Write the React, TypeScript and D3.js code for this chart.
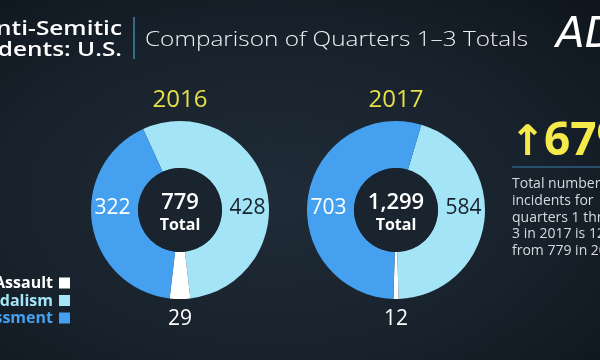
import * as d3 from 'd3';

// ---- data ----
const years = ['2016', '2017'];
const categories = ['Vandalism', 'Assault', 'Harassment'];
const values2016 = [428, 29, 322];
const values2017 = [584, 12, 703];
const totalLabels = ['779', '1,299'];
const legendLabels = ['Assault', 'Vandalism', 'Harassment'];
const headerLines = ['Anti-Semitic', 'Incidents: U.S.'];
const subtitle = 'Comparison of Quarters 1–3 Totals';
const increaseLabel = '67%';
const noteLines = [
  'Total number of',
  'incidents for',
  'quarters 1 through',
  '3 in 2017 is 1299, up',
  'from 779 in 2016.',
];

const W = 600;
const H = 360;
const FONT = '"Open Sans", Lato, sans-serif';

const colors = d3
  .scaleOrdinal<string, string>()
  .domain(categories)
  .range(['#a3e5f7', '#ffffff', '#45a1ef']);

const labelColors: Record<string, string> = {
  Vandalism: '#17222d',
  Assault: '#ffffff',
  Harassment: '#ffffff',
};

const Donut = ({ year, values, total, cx, cy }: {
  year: string; values: number[]; total: string; cx: number; cy: number;
}) => {
  const rOuter = 89;
  const rInner = 42;
  const sum = d3.sum(values);
  // start so the small "Assault" slice sits centred at the bottom
  const start = Math.PI - (values[1] / sum) * Math.PI - (values[0] / sum) * 2 * Math.PI;
  const pie = d3
    .pie<number>()
    .sort(null)
    .startAngle(start)
    .endAngle(start + 2 * Math.PI);
  const arcs = pie(values);
  const arc = d3.arc<d3.PieArcDatum<number>>().innerRadius(rInner).outerRadius(rOuter);
  const mid = (rOuter + rInner) / 2 + 2;

  return (
    <g transform={`translate(${cx},${cy})`}>
      <text y={-103} textAnchor="middle" fill="#e7df48" fontSize={24} fontFamily={FONT}>
        {year}
      </text>
      {arcs.map((a, i) => (
        <path key={categories[i]} d={arc(a) || ''} fill={colors(categories[i])} />
      ))}
      <circle r={rInner} fill="#19242f" />
      <text y={-1} textAnchor="middle" fill="#fff" fontSize={22} fontWeight={600} fontFamily={FONT}>
        {total}
      </text>
      <text y={20} textAnchor="middle" fill="#fff" fontSize={16} fontWeight={700} fontFamily={FONT}>
        Total
      </text>
      {/* Harassment label: left, Vandalism: right, Assault: below */}
      <text x={-mid} y={4} textAnchor="middle" fill={labelColors.Harassment} fontSize={21} fontFamily={FONT}>
        {values[2]}
      </text>
      <text x={mid} y={4} textAnchor="middle" fill={labelColors.Vandalism} fontSize={21} fontFamily={FONT}>
        {values[0]}
      </text>
      <text y={115} textAnchor="middle" fill={labelColors.Assault} fontSize={21} fontFamily={FONT}>
        {values[1]}
      </text>
    </g>
  );
};

export default function App() {
  const x = d3.scalePoint<string>().domain(years).range([180, 396]);
  const cy = 210;
  const legendY = d3.scalePoint<string>().domain(legendLabels).range([288, 323]);

  return (
    <div style={{ position: 'fixed', left: 0, top: 0, width: W, height: H }}>
      <svg width={W} height={H} style={{ display: 'block' }}>
        <defs>
          <radialGradient id="bg" cx="45%" cy="55%" r="75%">
            <stop offset="0%" stopColor="#1f2b37" />
            <stop offset="60%" stopColor="#18222c" />
            <stop offset="100%" stopColor="#0f161d" />
          </radialGradient>
        </defs>
        <rect width={W} height={H} fill="url(#bg)" />

        {/* header (wide geometric face imitated with a horizontal stretch) */}
        {headerLines.map((t, i) => (
          <text key={t} transform={`translate(122,${35 + i * 21}) scale(1.22,1)`} textAnchor="end"
            fill="#fff" fontSize={20} fontWeight={600} fontFamily={FONT}>
            {t}
          </text>
        ))}
        <line x1={134} x2={134} y1={17} y2={59} stroke="#3f86ad" strokeWidth={1.5} />
        <text x={145} y={46} fill="#f0f2f4" fontSize={21} fontWeight={300}
          fontFamily={FONT} textLength={383} lengthAdjust="spacingAndGlyphs">
          {subtitle}
        </text>
        <text x={556} y={47} fill="#fff" fontSize={42} fontStyle="italic" fontWeight={300}
          fontFamily={'"DejaVu Sans", sans-serif'}>
          ADL
        </text>

        {/* donuts */}
        <Donut year={years[0]} values={values2016} total={totalLabels[0]} cx={x(years[0])!} cy={cy} />
        <Donut year={years[1]} values={values2017} total={totalLabels[1]} cx={x(years[1])!} cy={cy} />

        {/* legend */}
        {legendLabels.map((l) => (
          <g key={l} transform={`translate(0,${legendY(l)})`}>
            <text x={53} textAnchor="end"
              fill={l === 'Assault' ? '#fff' : colors(l)}
              fontSize={16} fontWeight={700} fontFamily={FONT}>
              {l}
            </text>
            <rect x={59} y={-10.5} width={11} height={11} fill={colors(l)} />
          </g>
        ))}

        {/* increase callout */}
        <text x={510} y={155} fill="#f4ea4a" fontSize={42} fontWeight={700}
          fontFamily={'"DejaVu Sans", sans-serif'}>
          ↑
        </text>
        <text x={544} y={155} fill="#f4ea4a" fontSize={46} fontWeight={700} fontFamily={FONT}>
          {increaseLabel}
        </text>
        <line x1={512} x2={600} y1={167} y2={167} stroke="#2e5f80" strokeWidth={1.5} />
        {noteLines.map((t, i) => (
          <text key={t} x={512} y={188 + i * 16.8} fill="#d6dadf" fontSize={14} fontFamily={FONT}>
            {t}
          </text>
        ))}
      </svg>
    </div>
  );
}
